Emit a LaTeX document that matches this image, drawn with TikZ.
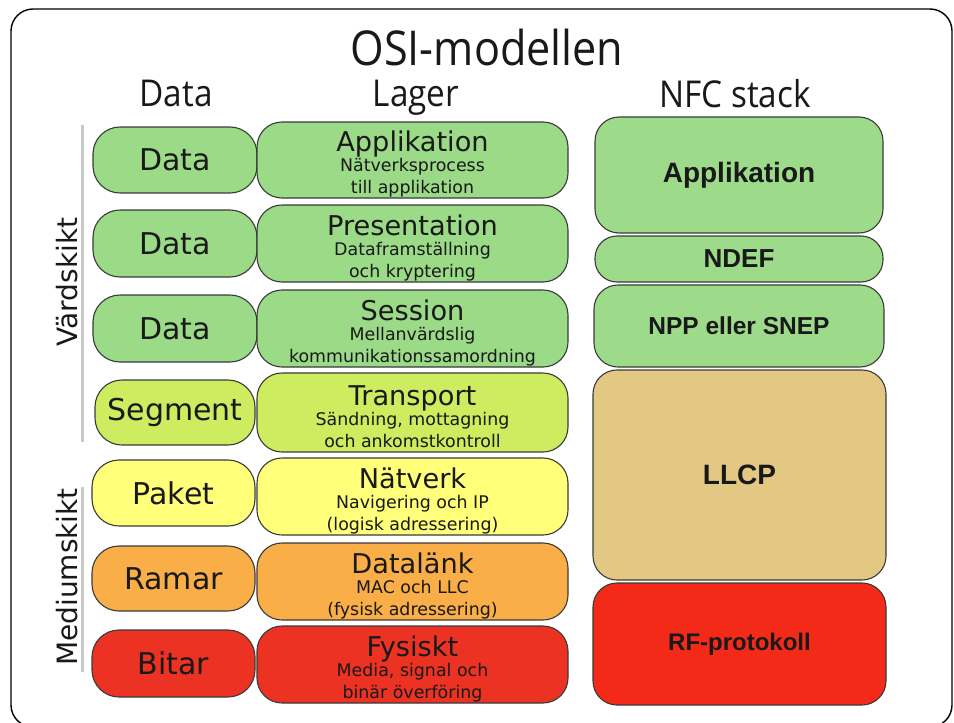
\documentclass[tikz,border=0pt]{standalone}
\usepackage{fontspec}
\setmainfont{DejaVu Sans}
\newfontfamily\headfont[FakeStretch=0.9]{Open Sans}
\newfontfamily\nfcfont{Liberation Sans}
\definecolor{cgreen}{HTML}{9BDA87}
\definecolor{cnfcgreen}{HTML}{9DDB8B}
\definecolor{clime}{HTML}{CDEC5F}
\definecolor{cyellow}{HTML}{FFFF7A}
\definecolor{corange}{HTML}{F9AE48}
\definecolor{cred}{HTML}{EC3222}
\definecolor{ctan}{HTML}{E2C882}
\definecolor{cnfcred}{HTML}{F42A18}
\definecolor{cborder}{HTML}{3A3A3A}
\definecolor{cgrayline}{HTML}{C8C8C8}
\newcommand\lagertitle{\fontsize{27.2}{29}\selectfont\rule{0pt}{29pt}}
\newcommand\lagersub{\fontsize{17.4}{22}\selectfont}
\tikzset{
  databox/.style={draw=cborder, line width=1.1pt, rounded corners=27pt, inner sep=0pt,
    font=\fontsize{30}{32}\selectfont, text=black!90},
  lagerbox/.style={draw=cborder, line width=1.1pt, rounded corners=25pt, inner sep=0pt,
    minimum width=311pt, align=center, font=\lagersub, text=black!90},
  nfcbox/.style={draw=cborder, line width=1.1pt, rounded corners=24pt, inner sep=0pt,
    font=\nfcfont\bfseries, text=black!90},
  header/.style={font=\headfont\fontsize{37}{39}\selectfont, anchor=base, text=black!90},
  sidelabel/.style={font=\fontsize{28}{30}\selectfont, rotate=90, anchor=base, text=black!90},
  grayline/.style={draw=cgrayline, line width=3pt}
}
\begin{document}
\begin{tikzpicture}[x=1pt,y=-1pt]
\useasboundingbox (0,0) rectangle (954,723);
\fill[white] (0,0) rectangle (954,723);
\draw[line width=1.4pt, rounded corners=22pt] (11,9) rectangle (952,727);

% headers
\node[font=\headfont\fontsize{48}{50}\selectfont, anchor=base, text=black!90] (title) at (487,65) {OSI-modellen};
\node[header] (hdata) at (176,106) {Data};
\node[header] (hlager) at (416,106) {Lager};
\node[header] (hnfc) at (735,107) {NFC stack};

% side labels
\coordinate (v1) at (82,125);
\coordinate (v2) at (82,442);
\coordinate (m1) at (82,487);
\coordinate (m2) at (82,672);
\draw[grayline] (v1) -- (v2);
\draw[grayline] (m1) -- (m2);
\node[sidelabel] (vard) at (77,282) {Värdskikt};
\node[sidelabel] (medium) at (77,577) {Mediumskikt};

% data column
\node[databox, fill=cgreen, minimum width=164pt, minimum height=66pt] (d1) at (175,160) {Data};
\node[databox, fill=cgreen, minimum width=164pt, minimum height=67pt] (d2) at (175,243.5) {Data};
\node[databox, fill=cgreen, minimum width=164pt, minimum height=67pt] (d3) at (175,328.5) {Data};
\node[databox, fill=clime, minimum width=160pt, minimum height=65pt] (d4) at (175,412.5) {Segment};
\node[databox, fill=cyellow, minimum width=163pt, minimum height=66pt] (d5) at (173.5,493) {Paket};
\node[databox, fill=corange, minimum width=163pt, minimum height=65pt] (d6) at (173.5,578.5) {Ramar};
\node[databox, fill=cred, minimum width=163pt, minimum height=67pt] (d7) at (173.5,663.5) {Bitar};

% lager column
\node[lagerbox, fill=cgreen, minimum height=76pt] (l1) at (412.5,160)
  {{\lagertitle Applikation}\\[-2pt]Nätverksprocess\\till applikation};
\node[lagerbox, fill=cgreen, minimum height=77pt] (l2) at (412.5,243.5)
  {{\lagertitle Presentation}\\[-2pt]Dataframställning\\och kryptering};
\node[lagerbox, fill=cgreen, minimum height=77pt] (l3) at (412.5,328.5)
  {{\lagertitle Session}\\[-2pt]Mellanvärdslig\\kommunikationssamordning};
\node[lagerbox, fill=clime, minimum height=79pt] (l4) at (412.5,412.5)
  {{\lagertitle Transport}\\[-2pt]Sändning, mottagning\\och ankomstkontroll};
\node[lagerbox, fill=cyellow, minimum height=77pt] (l5) at (412.5,496.5)
  {{\lagertitle Nätverk}\\[-2pt]Navigering och IP\\(logisk adressering)};
\node[lagerbox, fill=corange, minimum height=77pt] (l6) at (412.5,581.5)
  {{\lagertitle Datalänk}\\[-2pt]MAC och LLC\\(fysisk adressering)};
\node[lagerbox, fill=cred, minimum height=77pt] (l7) at (412.5,664.5)
  {{\lagertitle Fysiskt}\\[-2pt]Media, signal och\\binär överföring};

% NFC stack
\node[nfcbox, fill=cnfcgreen, minimum width=288pt, minimum height=116pt, font=\nfcfont\bfseries\fontsize{28}{30}\selectfont] (n1) at (739,175) {Applikation};
\node[nfcbox, fill=cnfcgreen, minimum width=288pt, minimum height=46pt, rounded corners=22pt, font=\nfcfont\bfseries\fontsize{26}{28}\selectfont] (n2) at (739,259) {NDEF};
\node[nfcbox, fill=cnfcgreen, minimum width=290pt, minimum height=82pt, font=\nfcfont\bfseries\fontsize{24.5}{26}\selectfont] (n3) at (739,326) {NPP eller SNEP};
\node[nfcbox, fill=ctan, minimum width=293pt, minimum height=210pt, font=\nfcfont\bfseries\fontsize{28}{30}\selectfont] (n4) at (739.5,475) {LLCP};
\node[nfcbox, fill=cnfcred, minimum width=293pt, minimum height=122pt, font=\nfcfont\bfseries\fontsize{24}{26}\selectfont] (n5) at (739.5,644) {RF-protokoll};
\end{tikzpicture}
\end{document}
